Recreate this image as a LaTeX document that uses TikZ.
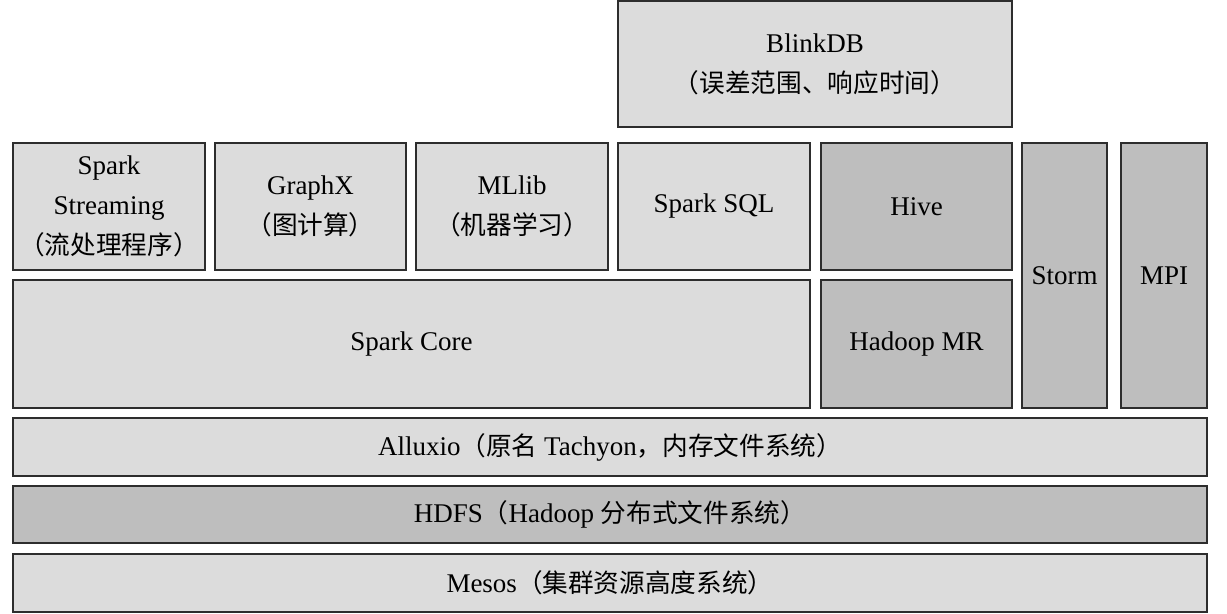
\documentclass[tikz,border=0pt]{standalone}
\usepackage{fontspec}
\setmainfont{Liberation Serif}
\newfontfamily\zhfont[Scale=0.95]{Noto Sans CJK SC}
\newcommand{\zh}[1]{{\zhfont #1}}
\definecolor{layerlight}{RGB}{220,220,220}
\definecolor{layerdark}{RGB}{190,190,190}
\definecolor{layerline}{RGB}{45,45,45}
\tikzset{
    layer/.style={draw=layerline, line width=0.75pt, fill=layerlight, inner sep=0pt, align=center,
        font=\fontsize{13.5}{20}\selectfont},
    darklayer/.style={layer, fill=layerdark}
}
\begin{document}
\begin{tikzpicture}[x=0.5pt, y=-0.5pt]
        \useasboundingbox (0,0) rectangle (1227,614);
        % top
        \node[layer, minimum width=197pt, minimum height=63pt] (blinkdb) at (815,64) {BlinkDB\\\zh{（误差范围、响应时间）}};
        % libraries
        \node[layer, minimum width=96pt, minimum height=63.5pt] (streaming) at (109,206.5) {Spark\\Streaming\\\zh{（流处理程序）}};
        \node[layer, minimum width=95.5pt, minimum height=63.5pt] (graphx) at (310.5,206.5) {GraphX\\\zh{（图计算）}};
        \node[layer, minimum width=96pt, minimum height=63.5pt] (mllib) at (512,206.5) {MLlib\\\zh{（机器学习）}};
        \node[layer, minimum width=96pt, minimum height=63.5pt] (sparksql) at (714,206.5) {Spark SQL};
        \node[darklayer, minimum width=95.5pt, minimum height=63.5pt] (hive) at (916.5,206.5) {Hive};
        \node[darklayer, minimum width=42.5pt, minimum height=132.5pt] (storm) at (1064.5,275.5) {Storm};
        \node[darklayer, minimum width=43pt, minimum height=132.5pt] (mpi) at (1164,275.5) {MPI};
        % engines
        \node[layer, minimum width=398.5pt, minimum height=64pt] (sparkcore) at (411.5,344) {Spark Core};
        \node[darklayer, minimum width=95.5pt, minimum height=64pt] (hadoopmr) at (916.5,344) {Hadoop MR};
        % storage and resources
        \node[layer, minimum width=597pt, minimum height=29pt] (alluxio) at (610,447) {Alluxio\zh{（原名} Tachyon\zh{，内存文件系统）}};
        \node[darklayer, minimum width=597pt, minimum height=28.5pt] (hdfs) at (610,514.5) {HDFS\zh{（}Hadoop \zh{分布式文件系统）}};
        \node[layer, minimum width=597pt, minimum height=29pt] (mesos) at (610,583) {Mesos\zh{（集群资源高度系统）}};
\end{tikzpicture}
\end{document}
